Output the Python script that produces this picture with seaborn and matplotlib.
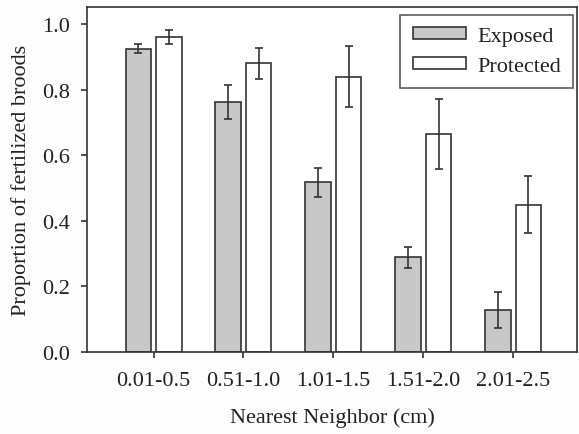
import matplotlib
matplotlib.use("Agg")
import matplotlib.pyplot as plt
import seaborn as sns
import pandas as pd
import numpy as np

categories = ["0.01-0.5", "0.51-1.0", "1.01-1.5", "1.51-2.0", "2.01-2.5"]
exposed = [0.925, 0.762, 0.517, 0.289, 0.128]
exposed_err = [0.013, 0.052, 0.043, 0.032, 0.054]
protected = [0.960, 0.880, 0.840, 0.664, 0.449]
protected_err = [0.022, 0.047, 0.092, 0.107, 0.087]
groups = ["Exposed", "Protected"]
yticks = [0.0, 0.2, 0.4, 0.6, 0.8, 1.0]

df = pd.DataFrame({
    "cat": categories * 2,
    "group": [groups[0]] * len(categories) + [groups[1]] * len(categories),
    "value": exposed + protected,
    "err": exposed_err + protected_err,
})

sns.set_style("ticks")
plt.rcParams["font.family"] = ["Liberation Serif", "DejaVu Serif"]
plt.rcParams["xtick.direction"] = "out"
plt.rcParams["ytick.direction"] = "out"

fig = plt.figure(figsize=(5.79, 4.35), dpi=100)
fig.patch.set_facecolor("#fdfdfd")
ax = fig.add_axes([87 / 579, 1 - 353 / 435, (577 - 87) / 579, (353 - 8) / 435])
ax.set_facecolor("white")

edge = "#333333"
txt = "#222222"
fs = 16
sns.barplot(data=df, x="cat", y="value", hue="group", order=categories,
            hue_order=groups, palette=["#c8c8c8", "#ffffff"],
            width=0.68, gap=0.17, edgecolor=edge, linewidth=1.2,
            errorbar=None, ax=ax, saturation=1)

# error bars at bar centres (positions taken from the drawn bars)
bars = [p for p in ax.patches if p.get_height() > 0][:2 * len(categories)]
vals = exposed + protected
errs = exposed_err + protected_err
xs = [p.get_x() + p.get_width() / 2 for p in bars]
hs = [p.get_height() for p in bars]
xs_matched = []
for v in vals:
    idx = int(np.argmin([abs(h - v) for h in hs]))
    xs_matched.append(xs[idx])
ax.errorbar(xs_matched, vals, yerr=errs, fmt="none", ecolor=edge,
            elinewidth=1.2, capsize=3, capthick=1.2)

ax.set_xlim(-0.74, 4.71)
ax.set_ylim(0, 1.052)
ax.set_yticks(yticks)
ax.set_yticklabels([f"{t:.1f}" for t in yticks])
ax.tick_params(axis="both", labelsize=fs, length=4, width=1.2, color=edge,
               labelcolor=txt)
ax.tick_params(axis="x", pad=10)
ax.tick_params(axis="y", pad=8)
for s in ax.spines.values():
    s.set_visible(True)
    s.set_color(edge)
    s.set_linewidth(1.2)

ax.set_xlabel("Nearest Neighbor (cm)", fontsize=fs, color=txt, labelpad=12)
ax.set_ylabel("Proportion of fertilized broods", fontsize=fs, color=txt, labelpad=8)

leg = ax.legend(loc="upper right", fontsize=fs, frameon=True, fancybox=False,
                edgecolor=edge, handlelength=2.4, handleheight=0.45,
                borderpad=0.55, labelspacing=0.5, handletextpad=0.5,
                borderaxespad=0,
                bbox_to_anchor=(0.992, 0.977))
leg.get_frame().set_linewidth(1.2)
for t in leg.get_texts():
    t.set_color(txt)

fig.savefig("out.png", dpi=100, facecolor=fig.get_facecolor())
